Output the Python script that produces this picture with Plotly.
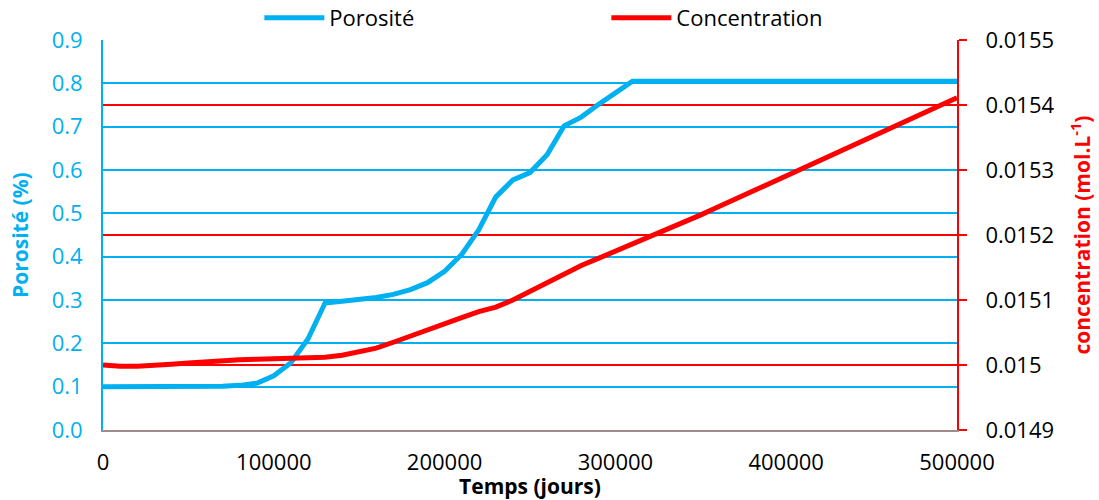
import plotly.graph_objects as go

# Simulation time (days), sampled every 10 000 days
temps = list(range(0, 500001, 10000))

# Porosity (fraction) along the simulation
porosite = [
    0.100, 0.100, 0.100, 0.100, 0.100, 0.100, 0.100, 0.101, 0.103, 0.108,
    0.125, 0.155, 0.210, 0.293, 0.297, 0.301, 0.306, 0.313, 0.324, 0.340,
    0.366, 0.405, 0.462, 0.538, 0.577, 0.594, 0.635, 0.702, 0.722, 0.751,
    0.779, 0.805, 0.805, 0.805, 0.805, 0.805, 0.805, 0.805, 0.805, 0.805,
    0.805, 0.805, 0.805, 0.805, 0.805, 0.805, 0.805, 0.805, 0.805, 0.805,
    0.805,
]

# Concentration (mol/L) along the simulation
concentration = [
    0.015000, 0.014998, 0.014998, 0.014999, 0.015001, 0.015003, 0.015005, 0.015006, 0.015008, 0.015009,
    0.015010, 0.015011, 0.015011, 0.015012, 0.015015, 0.015020, 0.015026, 0.015035, 0.015045, 0.015055,
    0.015064, 0.015073, 0.015082, 0.015089, 0.015100, 0.015113, 0.015127, 0.015141, 0.015153, 0.015164,
    0.015175, 0.015185, 0.015196, 0.015208, 0.015219, 0.015231, 0.015243, 0.015255, 0.015267, 0.015279,
    0.015291, 0.015303, 0.015315, 0.015327, 0.015339, 0.015351, 0.015363, 0.015375, 0.015387, 0.015399,
    0.015411,
]

# Axis ticks
x_ticks = [0, 100000, 200000, 300000, 400000, 500000]
y_ticks = [0.0, 0.1, 0.2, 0.3, 0.4, 0.5, 0.6, 0.7, 0.8, 0.9]
y2_ticks = [0.0149, 0.0150, 0.0151, 0.0152, 0.0153, 0.0154, 0.0155]
y2_labels = ["0.0149", "0.015", "0.0151", "0.0152", "0.0153", "0.0154", "0.0155"]
# Red grid only where it does not coincide with the porosity grid
y2_grid = [0.0150, 0.0152, 0.0154]

BLUE = "#00B0F0"
RED = "#FF0000"
FONT = "Open Sans"

fig = go.Figure()
fig.add_trace(go.Scatter(
    x=temps, y=porosite, name="Porosité", mode="lines",
    line=dict(color=BLUE, width=5), yaxis="y",
))
fig.add_trace(go.Scatter(
    x=temps, y=concentration, name="Concentration", mode="lines",
    line=dict(color=RED, width=5), yaxis="y2",
))

fig.update_layout(
    width=1099, height=500,
    margin=dict(l=103, r=142, t=40, b=70, autoexpand=False),
    paper_bgcolor="white", plot_bgcolor="white",
    font=dict(family=FONT, size=22, color="black"),
    showlegend=True,
    legend=dict(
        orientation="h", xref="container", yref="container",
        x=0.236, xanchor="left", y=0.964, yanchor="middle",
        font=dict(family=FONT, size=22, color="black"),
        entrywidth=272, entrywidthmode="pixels",
        bgcolor="rgba(0,0,0,0)", itemwidth=60,
    ),
    xaxis=dict(
        range=[0, 500000], tickvals=x_ticks, tickformat="d",
        showgrid=False, zeroline=False,
        showline=True, linecolor="#A38A8A", linewidth=2,
        ticks="", ticklabelstandoff=12,
        tickfont=dict(family=FONT, size=22, color="black"),
        title=dict(text="<b>Temps (jours)</b>", standoff=0,
                   font=dict(family=FONT, size=21, color="black")),
    ),
    yaxis=dict(
        range=[0, 0.9], tickvals=y_ticks, tickformat=".1f",
        showgrid=True, gridcolor=BLUE, gridwidth=1.5, zeroline=False,
        showline=True, linecolor=BLUE, linewidth=2,
        ticks="", ticklabelstandoff=14,
        tickfont=dict(family=FONT, size=22, color=BLUE),
    ),
    yaxis2=dict(
        range=[0.0149, 0.0155], tickvals=y2_ticks, ticktext=y2_labels,
        overlaying="y", side="right",
        showgrid=False, zeroline=False,
        minor=dict(tickvals=y2_grid, showgrid=True, gridcolor=RED,
                   gridwidth=1.5, ticks=""),
        showline=True, linecolor=RED, linewidth=2,
        ticks="outside", ticklen=8, tickwidth=2, tickcolor=RED,
        ticklabelstandoff=14,
        tickfont=dict(family=FONT, size=22, color="black"),
        title=dict(text="<b>concentration (mol.L<sup>-1</sup>)</b>", standoff=22,
                   font=dict(family=FONT, size=21, color=RED)),
    ),
    annotations=[dict(
        text="<b>Porosité (%)</b>", textangle=-90,
        xref="paper", yref="paper", x=-83 / 854, y=0.5,
        xanchor="center", yanchor="middle", showarrow=False,
        font=dict(family=FONT, size=21, color=BLUE),
    )],
)

fig.write_html("out.html")
